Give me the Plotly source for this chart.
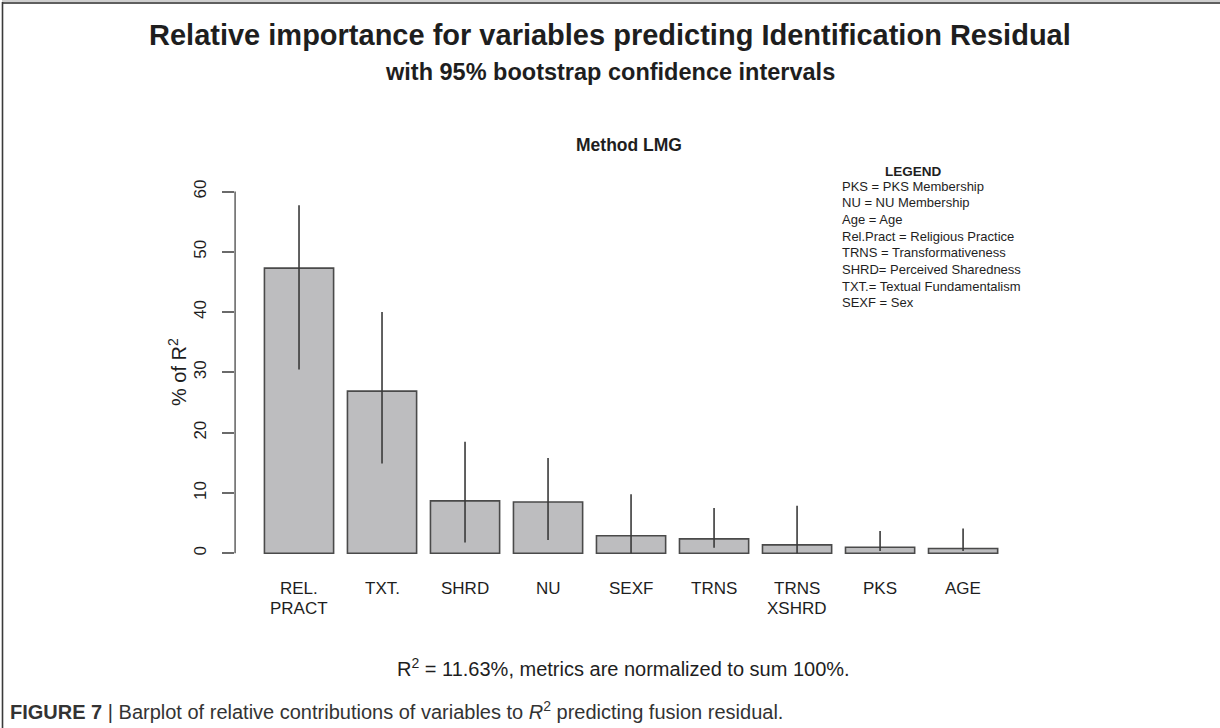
import plotly.graph_objects as go

# ---------------- data ----------------
categories = ["REL.<br>PRACT", "TXT.", "SHRD", "NU", "SEXF", "TRNS", "TRNS<br>XSHRD", "PKS", "AGE"]
importance = [47.3, 26.9, 8.7, 8.5, 2.9, 2.4, 1.4, 1.0, 0.8]
ci_lower = [30.5, 14.9, 1.8, 2.2, 0.0, 0.9, 0.0, 0.4, 0.4]
ci_upper = [57.7, 40.0, 18.5, 15.8, 9.8, 7.5, 7.9, 3.7, 4.1]
y_ticks = [0, 10, 20, 30, 40, 50, 60]
legend_title = "LEGEND"
legend_lines = [
    "PKS = PKS Membership",
    "NU = NU Membership",
    "Age = Age",
    "Rel.Pract = Religious Practice",
    "TRNS = Transformativeness",
    "SHRD= Perceived Sharedness",
    "TXT.= Textual Fundamentalism",
    "SEXF = Sex",
]
title_text = "Relative importance for variables predicting Identification Residual"
subtitle_text = "with 95% bootstrap confidence intervals"
method_text = "Method LMG"
r2_text = "R<sup>2</sup> = 11.63%, metrics are normalized to sum 100%."
caption_text = ("<b>FIGURE 7</b> | Barplot of relative contributions of variables to "
                "<i>R</i><sup>2</sup> predicting fusion residual.")

# ---------------- geometry helpers ----------------
W, H = 1220, 728
FONT = "Liberation Sans, Arial, Helvetica, sans-serif"
TXT = "#1e1e1e"


def px(x):
    return x / W


def py(y):
    return 1 - y / H


x_left, x_right = 235.1, 1027.0
y_min, y_max = -2.0, 62.0
y_zero_px, y_sixty_px = 553.3, 191.5
ppu = (y_zero_px - y_sixty_px) / 60.0
y_bot_px = y_zero_px + (0 - y_min) * ppu
y_top_px = y_sixty_px - (y_max - 60) * ppu

err_plus = [u - v for u, v in zip(ci_upper, importance)]
err_minus = [v - l for v, l in zip(importance, ci_lower)]

fig = go.Figure()
fig.add_trace(go.Bar(
    x=categories,
    y=importance,
    marker=dict(color="#bdbdbf", line=dict(color="#4a4a4a", width=1.6)),
    error_y=dict(type="data", symmetric=False, array=err_plus, arrayminus=err_minus,
                 width=0, thickness=1.6, color="#3a3a3a"),
    hoverinfo="x+y",
    showlegend=False,
))

annotations = []


def add_text(text, x, y, size, bold=False, xanchor="center", color=TXT, family=FONT, **kw):
    annotations.append(dict(
        text=f"<b>{text}</b>" if bold else text,
        x=x, y=y, xref=kw.pop("xref", "paper"), yref=kw.pop("yref", "paper"),
        xanchor=xanchor, yanchor="middle", showarrow=False,
        font=dict(family=family, size=size, color=color), **kw))


add_text(title_text, px(610), py(35), 29, bold=True)
add_text(subtitle_text, px(610), py(72), 23.5, bold=True)
add_text(method_text, px(629), py(145), 17.5, bold=True)

# legend block
add_text(legend_title, px(913), py(171), 13.5, bold=True)
for i, line in enumerate(legend_lines):
    add_text(line, px(840), py(186 + 16.7 * i), 13, xanchor="left")

# x category labels (each line placed separately)
for cat in categories:
    for j, part in enumerate(cat.split("<br>")):
        add_text(part, cat, py(588.5 + 19.5 * j), 17, xref="x")

# y title
add_text("% of R<sup>2</sup>", px(177), py(372), 20, textangle=-90)

# bottom texts
add_text(r2_text, px(623), py(667), 20)
add_text(caption_text, px(8), py(710), 20, xanchor="left", color="#333333")

shapes = [
    # y axis line spanning the ticks only
    dict(type="line", xref="paper", yref="y", x0=px(x_left), x1=px(x_left), y0=0, y1=60,
         line=dict(color="#6a6a6a", width=1.6)),
    # figure frame
    dict(type="line", xref="paper", yref="paper", x0=px(2), x1=1, y0=py(1), y1=py(1),
         line=dict(color="#a0a0a0", width=1.2)),
    dict(type="line", xref="paper", yref="paper", x0=px(2), x1=1, y0=py(3), y1=py(3),
         line=dict(color="#2a2a2a", width=1.6)),
    dict(type="line", xref="paper", yref="paper", x0=px(2.5), x1=px(2.5), y0=py(2), y1=0,
         line=dict(color="#3a3a3a", width=1.6)),
]

fig.update_layout(
    width=W, height=H,
    margin=dict(l=0, r=0, t=0, b=0, autoexpand=False),
    paper_bgcolor="white", plot_bgcolor="white",
    bargap=1 / 6,
    xaxis=dict(domain=[px(x_left), px(x_right)], range=[-0.77, 8.77], automargin=False,
               showticklabels=False, ticks="", showline=False, showgrid=False, zeroline=False),
    yaxis=dict(domain=[py(y_bot_px), py(y_top_px)], range=[y_min, y_max], automargin=False,
               tickvals=y_ticks, ticktext=[str(v) for v in y_ticks], tickangle=-90,
               ticks="outside", ticklen=12, tickwidth=1.6, tickcolor="#6a6a6a",
               ticklabelstandoff=9,
               tickfont=dict(family=FONT, size=17, color=TXT),
               showline=False, showgrid=False, zeroline=False),
    annotations=annotations,
    shapes=shapes,
)

fig.write_html("out.html", config={"displayModeBar": False},
               post_script="document.body.style.margin='0px';")
